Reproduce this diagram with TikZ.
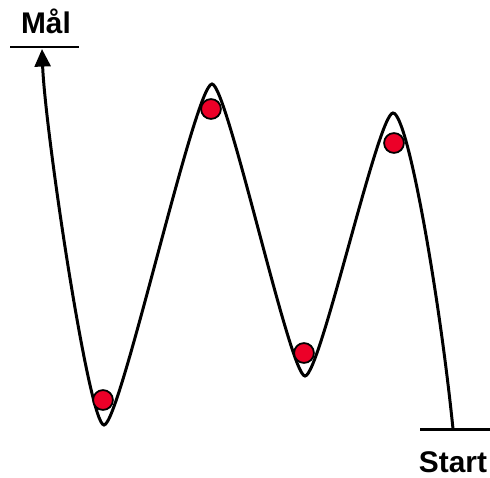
\documentclass[tikz,border=0pt]{standalone}
\usepackage{fontspec}
\setmainfont{Liberation Sans}
\usetikzlibrary{arrows.meta}
\definecolor{ballred}{RGB}{236,0,40}
\tikzset{
  pathline/.style={
    line width=1.7pt,
    black
  },
  levelline/.style={
    line width=1.7pt,
    black
  },
  ball/.style={
    circle,
    draw=black,
    fill=ballred,
    line width=1pt,
    minimum size=11.3pt,
    inner sep=0pt
  },
  labeltext/.style={
    font=\fontsize{17}{20}\selectfont\bfseries,
    inner sep=0pt,
    anchor=base
  }
}

\begin{document}
\begin{tikzpicture}[x=0.02cm, y=-0.02cm]
  \useasboundingbox (0,0) rectangle (490,477);
  % extremes of the landscape
  \coordinate (start) at (453,429);
  \coordinate (peakB) at (393,113);
  \coordinate (valleyB) at (305,376);
  \coordinate (peakA) at (212,84);
  \coordinate (valleyA) at (104,425);
  \coordinate (goal) at (42,49);

  \coordinate (startL) at (420,429);
  \coordinate (startR) at (490,429);
  \coordinate (goalL) at (10,47);
  \coordinate (goalR) at (79,47);

  \draw[levelline] (startL) -- (startR);
  \draw[levelline] (goalL) -- (goalR);

  \draw[pathline, -{Triangle[length=10pt, width=9pt]}]
    (start) .. controls (440,300) and (408,113) .. (peakB)
    .. controls (378,113) and (320,376) .. (valleyB)
    .. controls (290,376) and (227,84) .. (peakA)
    .. controls (195,84) and (120,425) .. (valleyA)
    .. controls (89,425) and (45,130) .. (goal);

  % balls
  \node[ball] (ballA) at (103,400) {};
  \node[ball] (ballB) at (211,109) {};
  \node[ball] (ballC) at (304,353) {};
  \node[ball] (ballD) at (394,143) {};

  \node[labeltext] (goaltext) at (46,33) {Mål};
  \node[labeltext] (starttext) at (453,472) {Start};
\end{tikzpicture}
\end{document}
